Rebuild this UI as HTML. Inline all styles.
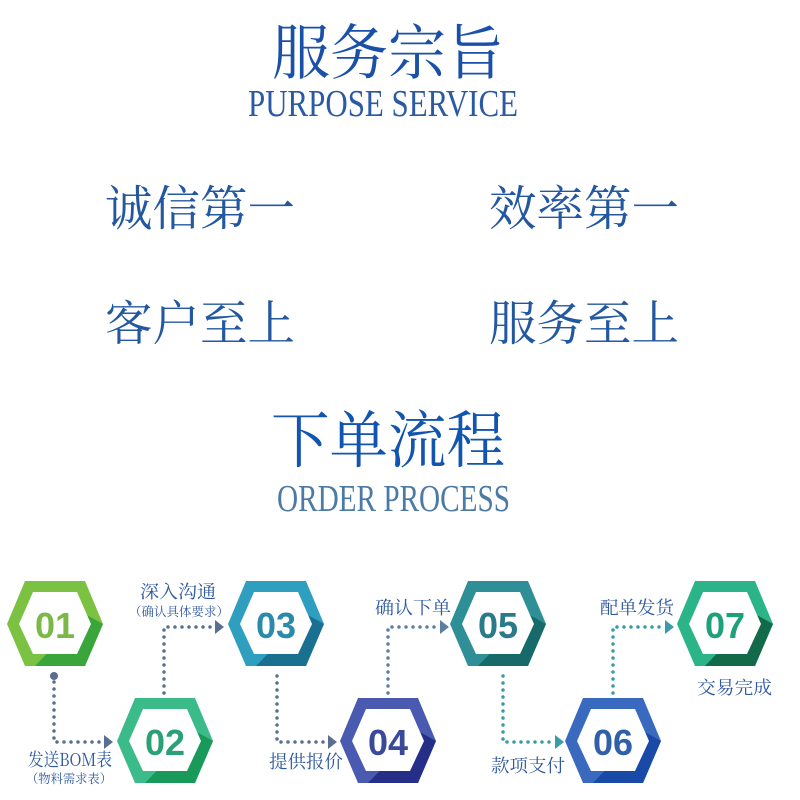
<!DOCTYPE html>
<html><head><meta charset="utf-8"><style>
html,body{margin:0;padding:0;background:#fff;width:800px;height:800px;overflow:hidden}
svg{display:block}
.cj{font-family:"Noto Serif CJK SC","Liberation Serif",serif}
.en{font-family:"Liberation Serif",serif}
.num{font-family:"Liberation Sans",sans-serif;font-weight:bold;font-size:36px}
</style></head><body>
<svg width="800" height="800" viewBox="0 0 800 800" xmlns="http://www.w3.org/2000/svg">
<g class="cj" fill="#2358a0">
<text x="388" y="74" font-size="60" text-anchor="middle" fill="#1a50a8" textLength="232" lengthAdjust="spacingAndGlyphs">服务宗旨</text>
<text x="105" y="225" font-size="48" textLength="190" lengthAdjust="spacingAndGlyphs">诚信第一</text>
<text x="489" y="225" font-size="48" textLength="190" lengthAdjust="spacingAndGlyphs">效率第一</text>
<text x="105" y="340" font-size="48" textLength="190" lengthAdjust="spacingAndGlyphs">客户至上</text>
<text x="489" y="340" font-size="48" textLength="190" lengthAdjust="spacingAndGlyphs">服务至上</text>
<text x="388" y="462" font-size="62" text-anchor="middle" fill="#1155b0" textLength="234" lengthAdjust="spacingAndGlyphs">下单流程</text>
</g>
<text class="en" x="248" y="116" font-size="38" fill="#2a5aa5" textLength="270" lengthAdjust="spacingAndGlyphs">PURPOSE SERVICE</text>
<text class="en" x="277" y="511" font-size="38" fill="#4a7aa5" textLength="233" lengthAdjust="spacingAndGlyphs">ORDER PROCESS</text>

<g fill="none" stroke-width="3.5" stroke-linecap="round" stroke-dasharray="0 7">
<path d="M54 682 V742 H104" stroke="#5a6f8f"/>
<path d="M164 693 V627 H215" stroke="#5a6f8f"/>
<path d="M277 676 V742 H328" stroke="#5a6f8f"/>
<path d="M388 693 V627 H440" stroke="#5a7f9f"/>
<path d="M503 676 V742 H555" stroke="#3a9aa8"/>
<path d="M613 693 V627 H665" stroke="#3a9aa8"/>
</g>
<circle cx="54" cy="676" r="4" fill="#5a6f8f"/>
<g>
<polygon points="104,735 113,742 104,749" fill="#5a6f8f"/>
<polygon points="215,620 224,627 215,634" fill="#5a6f8f"/>
<polygon points="328,735 337,742 328,749" fill="#5a6f8f"/>
<polygon points="440,620 449,627 440,634" fill="#5a7f9f"/>
<polygon points="555,735 564,742 555,749" fill="#3a9aa8"/>
<polygon points="665,620 674,627 665,634" fill="#3a9aa8"/>
</g>

<g transform="translate(55,624)">
<polygon points="-48,0 -30,-43 30,-43 48,0 30,42 -30,42" fill="#7cc242"/>
<polygon points="48,0 30,42 -20,42 30,-10" fill="#3aa53a"/>
<polygon points="-36,0 -22,-32 22,-32 36,0 22,30 -22,30" fill="#fff"/>
<text class="num" x="0" y="14" text-anchor="middle" fill="#7cb848">01</text>
</g>
<g transform="translate(165,741)">
<polygon points="-48,0 -30,-43 30,-43 48,0 30,42 -30,42" fill="#3cbb8a"/>
<polygon points="48,0 30,42 -20,42 30,-10" fill="#1a9a5a"/>
<polygon points="-36,0 -22,-32 22,-32 36,0 22,30 -22,30" fill="#fff"/>
<text class="num" x="0" y="14" text-anchor="middle" fill="#2aa076">02</text>
</g>
<g transform="translate(276,624)">
<polygon points="-48,0 -30,-43 30,-43 48,0 30,42 -30,42" fill="#2f9fc0"/>
<polygon points="48,0 30,42 -20,42 30,-10" fill="#1a7090"/>
<polygon points="-36,0 -22,-32 22,-32 36,0 22,30 -22,30" fill="#fff"/>
<text class="num" x="0" y="14" text-anchor="middle" fill="#2a8aaa">03</text>
</g>
<g transform="translate(388,741)">
<polygon points="-48,0 -30,-43 30,-43 48,0 30,42 -30,42" fill="#4a5ab0"/>
<polygon points="48,0 30,42 -20,42 30,-10" fill="#252f88"/>
<polygon points="-36,0 -22,-32 22,-32 36,0 22,30 -22,30" fill="#fff"/>
<text class="num" x="0" y="14" text-anchor="middle" fill="#3a4a9a">04</text>
</g>
<g transform="translate(498,624)">
<polygon points="-48,0 -30,-43 30,-43 48,0 30,42 -30,42" fill="#2f8f96"/>
<polygon points="48,0 30,42 -20,42 30,-10" fill="#166a6a"/>
<polygon points="-36,0 -22,-32 22,-32 36,0 22,30 -22,30" fill="#fff"/>
<text class="num" x="0" y="14" text-anchor="middle" fill="#2a7a8a">05</text>
</g>
<g transform="translate(613,741)">
<polygon points="-48,0 -30,-43 30,-43 48,0 30,42 -30,42" fill="#3a6ac0"/>
<polygon points="48,0 30,42 -20,42 30,-10" fill="#1a4aa8"/>
<polygon points="-36,0 -22,-32 22,-32 36,0 22,30 -22,30" fill="#fff"/>
<text class="num" x="0" y="14" text-anchor="middle" fill="#3060a8">06</text>
</g>
<g transform="translate(725,624)">
<polygon points="-48,0 -30,-43 30,-43 48,0 30,42 -30,42" fill="#2ab488"/>
<polygon points="48,0 30,42 -20,42 30,-10" fill="#136a4a"/>
<polygon points="-36,0 -22,-32 22,-32 36,0 22,30 -22,30" fill="#fff"/>
<text class="num" x="0" y="14" text-anchor="middle" fill="#1ea07a">07</text>
</g>

<g class="cj" fill="#2d58a0">
<text x="140" y="598" font-size="18" textLength="76" lengthAdjust="spacingAndGlyphs">深入沟通</text>
<text x="129" y="616" font-size="12.5" textLength="100" lengthAdjust="spacingAndGlyphs">（确认具体要求）</text>
<text x="28" y="766" font-size="18" textLength="84" lengthAdjust="spacingAndGlyphs">发送BOM表</text>
<text x="26" y="783" font-size="12.5" textLength="86" lengthAdjust="spacingAndGlyphs">（物料需求表）</text>
<text x="269" y="768" font-size="18" textLength="74" lengthAdjust="spacingAndGlyphs">提供报价</text>
<text x="375" y="614" font-size="18" textLength="76" lengthAdjust="spacingAndGlyphs">确认下单</text>
<text x="491" y="772" font-size="18" textLength="74" lengthAdjust="spacingAndGlyphs">款项支付</text>
<text x="600" y="614" font-size="18" textLength="74" lengthAdjust="spacingAndGlyphs">配单发货</text>
<text x="697" y="694" font-size="18" textLength="75" lengthAdjust="spacingAndGlyphs">交易完成</text>
</g>
</svg>
</body></html>
